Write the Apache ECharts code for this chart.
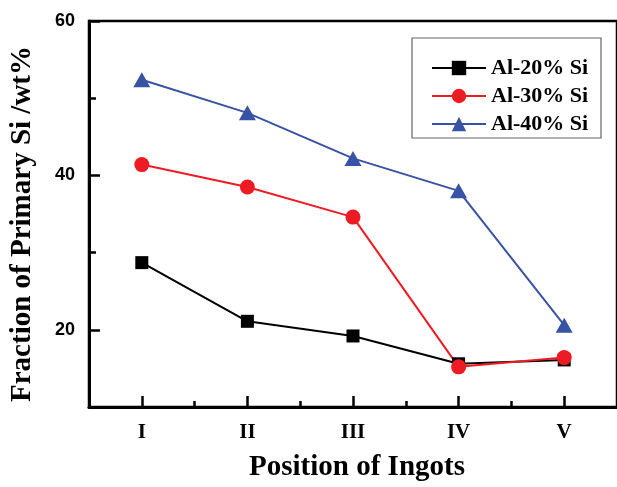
<!DOCTYPE html>
<html>
<head>
<meta charset="utf-8">
<script src="https://cdn.jsdelivr.net/npm/echarts@6/dist/echarts.min.js"></script>
<style>
  html, body { margin: 0; padding: 0; background: #ffffff; }
  #chart { width: 617px; height: 487px; }
</style>
</head>
<body>
<div id="chart"></div>
<script>
// ---- data ----
const categories = ['I', 'II', 'III', 'IV', 'V'];
const seriesNames = ['Al-20% Si', 'Al-30% Si', 'Al-40% Si'];
const al20 = [28.7, 21.1, 19.2, 15.6, 16.1];
const al30 = [41.4, 38.5, 34.6, 15.2, 16.4];
const al40 = [52.4, 48.1, 42.2, 38.0, 20.6];
const yLabelTicks = [20, 40, 60];
const yMinorTicks = [30, 50];
const xTitle = 'Position of Ingots';
const yTitle = 'Fraction of Primary Si /wt%';

const serifFont = '"Liberation Serif", "Times New Roman", serif';
const sansFont = '"Liberation Sans", Arial, sans-serif';

const chart = echarts.init(document.getElementById('chart'), null, { renderer: 'canvas' });

const option = {
  backgroundColor: '#ffffff',
  animation: false,
  grid: {
    left: 89, top: 21, width: 532, height: 389,
    show: true, borderColor: '#000', borderWidth: 2.5,
    containLabel: false
  },
  legend: {
    orient: 'vertical',
    left: 431, top: 54,
    padding: 0,
    itemWidth: 54, itemHeight: 18, itemGap: 0,
    data: seriesNames,
    lineStyle: { width: 2 },
    textStyle: { fontFamily: serifFont, fontWeight: 'bold', fontSize: 22, color: '#000', lineHeight: 28 }
  },
  graphic: [{
    type: 'rect',
    shape: { x: 412, y: 38, width: 189, height: 100 },
    style: { fill: null, stroke: '#666', lineWidth: 1.2 },
    z: 100
  }],
  xAxis: [{
    type: 'category',
    data: categories,
    boundaryGap: true,
    position: 'bottom',
    axisLine: { show: true, lineStyle: { color: '#000', width: 3 } },
    axisTick: { show: true, inside: true, alignWithLabel: true, length: 11, lineStyle: { color: '#000', width: 2.5 } },
    axisLabel: { margin: 15, fontFamily: serifFont, fontWeight: 'bold', fontSize: 21, color: '#000' },
    splitLine: { show: false },
    name: xTitle,
    nameLocation: 'middle',
    nameGap: 46,
    nameTextStyle: { fontFamily: serifFont, fontWeight: 'bold', fontSize: 29, color: '#000', padding: [0, 0, 0, 8] }
  }, {
    type: 'category',
    data: categories,
    boundaryGap: true,
    position: 'bottom',
    axisLine: { show: false },
    axisTick: { show: true, inside: true, alignWithLabel: false, length: 6, lineStyle: { color: '#000', width: 2.5 } },
    axisLabel: { show: false },
    splitLine: { show: false }
  }],
  yAxis: [{
    type: 'value',
    min: 10, max: 60, interval: 10,
    position: 'left',
    axisLine: { show: true, lineStyle: { color: '#000', width: 3 } },
    axisTick: { show: true, inside: true, length: 11, customValues: yLabelTicks, lineStyle: { color: '#000', width: 2.5 } },
    axisLabel: { margin: 14, customValues: yLabelTicks, fontFamily: sansFont, fontWeight: 'bold', fontSize: 18, color: '#000' },
    splitLine: { show: false },
    name: yTitle,
    nameLocation: 'middle',
    nameGap: 52,
    nameTextStyle: { fontFamily: serifFont, fontWeight: 'bold', fontSize: 29, color: '#000', padding: [0, 20, 0, 0] }
  }, {
    type: 'value',
    min: 10, max: 60, interval: 10,
    position: 'left',
    axisLine: { show: false },
    axisTick: { show: true, inside: true, length: 7, customValues: yMinorTicks, lineStyle: { color: '#000', width: 2.5 } },
    axisLabel: { show: false },
    splitLine: { show: false }
  }],
  series: [{
    name: seriesNames[0], type: 'line', data: al20,
    symbol: 'rect', symbolSize: 13,
    color: '#000000',
    lineStyle: { width: 2, color: '#000000' },
    itemStyle: { color: '#000000' }
  }, {
    name: seriesNames[1], type: 'line', data: al30,
    symbol: 'circle', symbolSize: 15,
    color: '#ed1c24',
    lineStyle: { width: 2, color: '#ed1c24' },
    itemStyle: { color: '#ed1c24' }
  }, {
    name: seriesNames[2], type: 'line', data: al40,
    symbol: 'triangle', symbolSize: [17, 15],
    color: '#3953a4',
    lineStyle: { width: 2, color: '#3953a4' },
    itemStyle: { color: '#3953a4' }
  }]
};

chart.setOption(option);
</script>
</body>
</html>
